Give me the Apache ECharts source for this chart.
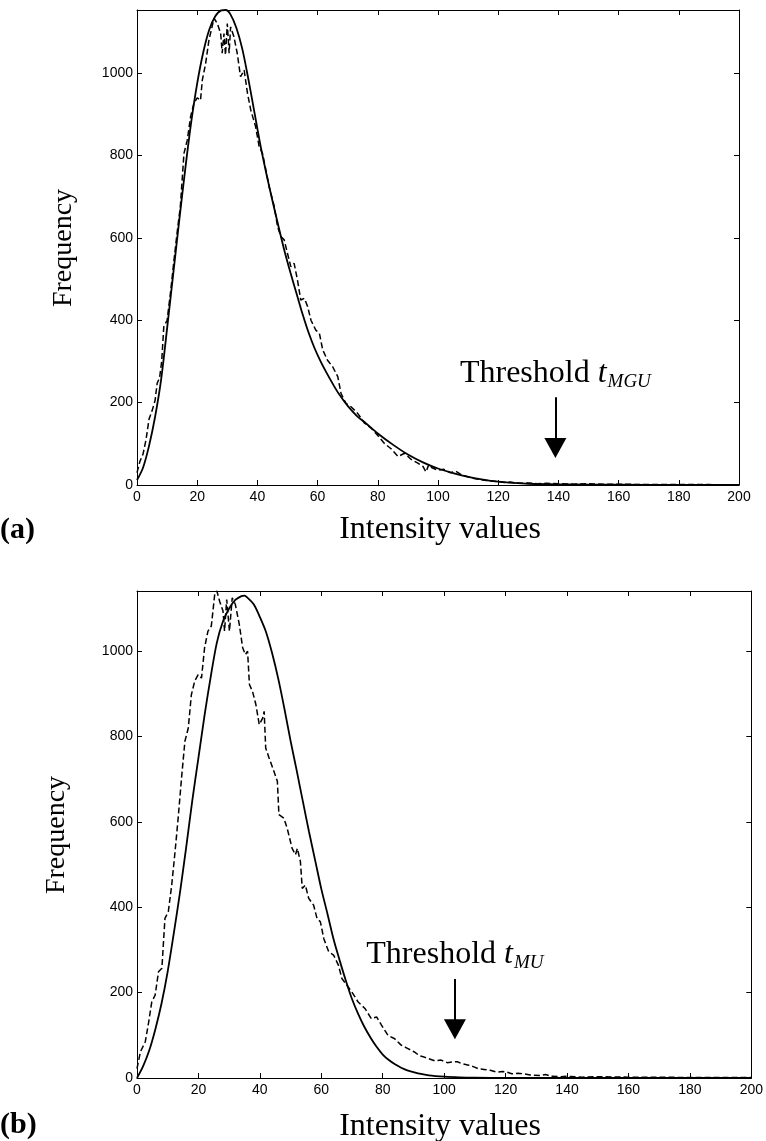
<!DOCTYPE html>
<html>
<head>
<meta charset="utf-8">
<script src="https://cdn.jsdelivr.net/npm/echarts@6/dist/echarts.min.js"></script>
<style>
html,body{margin:0;padding:0;background:#fff;}
#chart{width:766px;height:1141px;}
</style>
</head>
<body>
<div id="chart"></div>
<script>
// ---------- data ----------
const xTicks = [0, 20, 40, 60, 80, 100, 120, 140, 160, 180, 200];
const yTicks = [0, 200, 400, 600, 800, 1000];

// (a) fitted model (solid) : [intensity, frequency]
const solidA = [[0,12],[2,42],[4,95],[6,165],[8,255],[10,380],[12,510],[14,640],[16,765],[18,880],[20,975],[22,1050],[24,1105],[26,1138],[28,1152],[29.5,1153],[31,1143],[33,1110],[35,1058],[37,985],[39,905],[41,825],[43,755],[45,690],[47,628],[49,568],[51,515],[53,465],[55,415],[57,370],[59,332],[61,300],[63,272],[65,246],[67,222],[70,192],[73,168],[76,150],[80,125],[85,98],[90,74],[95,55],[100,40],[105,29],[110,20],[115,13],[120,8],[125,5],[130,3],[140,1.5],[150,1],[170,0.5],[200,0.2]];

// (a) histogram (dashed)
const dashedA = [[0,30],[1,58],[2,75],[3,110],[4,160],[5,180],[6,205],[6.7,247],[7.5,260],[8.2,300],[8.9,384],[10,400],[11.1,465],[12.2,540],[13.3,611],[14.4,676],[15.6,805],[16.7,837],[17.8,894],[18.9,926],[20,940],[21.1,934],[21.7,983],[22.8,1023],[23.9,1080],[25.6,1133],[26.7,1120],[27.8,1096],[28.3,1048],[28.9,1096],[29.4,1044],[30,1120],[30.6,1048],[31.1,1112],[32.2,1088],[33.3,1048],[34.4,991],[35.6,1007],[36.7,951],[37.8,910],[39.4,870],[40.6,821],[41.7,805],[42.8,765],[43.9,724],[45.6,676],[46.7,627],[47.8,603],[48.9,595],[50,562],[51.1,530],[52.2,538],[53.3,498],[54.4,449],[55.6,453],[56.7,433],[57.8,400],[59.4,376],[60.6,368],[61.7,328],[63.3,303],[65,287],[66.7,263],[67.8,222],[69.4,198],[71.1,190],[73.3,174],[75.6,150],[77.8,138],[80,120],[82.2,101],[84.4,88],[86.7,69],[88.9,77],[91.1,62],[93.3,53],[95,45],[96,32],[97,50],[98,42],[100,36],[102,38],[104,30],[106,33],[108,24],[110,20],[112,16],[114,13],[116,11],[118,10],[120,8],[122,6],[124,7],[126,5],[128,4],[130,5],[133,3],[136,4],[140,3],[145,2],[150,3],[155,2],[160,2],[170,1],[180,1],[190,1],[200,0]];

// (b) fitted model (solid)
const solidB = [[0,0],[2,28],[4,65],[6,115],[8,175],[10,250],[12,340],[14,435],[16,540],[18,650],[20,750],[22,850],[24,940],[26,1020],[28,1070],[30,1100],[32,1120],[34,1129],[35,1130],[36,1125],[38,1110],[40,1080],[42,1045],[44,995],[46,935],[48,865],[50,790],[52,720],[54,648],[56,577],[58,510],[60,443],[62,385],[64,325],[66,275],[68,228],[70,185],[72,150],[74,120],[76,95],[78,73],[80,55],[82,42],[84,32],[86,24],[88,18],[90,14],[92,10],[95,6],[100,3],[105,1.5],[110,0.8],[120,0.3],[200,0]];

// (b) histogram (dashed)
const dashedB = [[0,22],[1.1,61],[2.7,85],[3.8,131],[4.8,178],[5.9,194],[7,249],[8.1,257],[9.1,374],[10.2,390],[11.3,452],[12.4,531],[13.4,609],[14.5,703],[15.6,789],[16.7,820],[17.7,898],[18.8,930],[19.9,945],[21,937],[22,1008],[23.1,1047],[24.2,1059],[25.3,1133],[26,1141],[26.9,1117],[28,1094],[28.5,1047],[29.2,1121],[30.1,1047],[31,1125],[32,1110],[33.3,1063],[34.4,1008],[35.3,992],[36,1000],[36.6,922],[37.6,906],[38.7,875],[39.8,828],[40.9,843],[41.4,859],[41.9,773],[43,750],[44.6,718],[45.7,695],[46.2,617],[47.8,609],[48.9,585],[50.5,538],[51.6,523],[52.2,538],[53.2,507],[53.8,444],[54.8,452],[55.9,421],[57.5,405],[58.6,374],[59.7,366],[60.8,327],[62.4,296],[64,288],[65.6,264],[66.7,233],[68.3,218],[69.9,202],[72,178],[74.2,163],[76.3,139],[78,143],[79.6,124],[81.7,100],[83.9,92],[86,77],[88.2,69],[90.3,61],[92,52],[93.5,49],[95,45],[97,40],[99,42],[101,36],[103,38],[104.3,38],[106,33],[108,30],[109.7,26],[111,22],[113,20],[115,18],[117,14],[119,15],[120.4,14],[122,10],[124,11],[125.8,10],[128,7],[131.2,6],[133,8],[135,4],[138,3],[140,4],[145,2],[150,3],[160,2],[170,2],[180,1],[190,1],[200,1]];

// threshold arrows: [x, arrow start y, arrow head y]
const thresholdA = [139, 213, 90];
const thresholdB = [103.5, 232, 114];
const thresholdLabelA = 'MGU';
const thresholdLabelB = 'MU';
const yMaxA = 1153;
const yMaxB = 1141;

// ---------- chart ----------
const chart = echarts.init(document.getElementById('chart'), null, {renderer: 'canvas'});
const SANS = 'Liberation Sans, Arial, Helvetica, sans-serif';
const SERIF = 'Liberation Serif, Times New Roman, serif';

function xAx(grid, pos) {
  return {
    gridIndex: grid, type: 'value', position: pos,
    min: xTicks[0], max: xTicks[xTicks.length - 1], interval: xTicks[1] - xTicks[0],
    axisLine: {show: true, onZero: false, lineStyle: {color: '#000', width: 1}},
    axisTick: {show: true, inside: true, length: 5, lineStyle: {color: '#000', width: 1}},
    axisLabel: {show: pos === 'bottom', color: '#000', fontSize: 14, fontFamily: SANS, margin: 5},
    splitLine: {show: false}
  };
}
function yAx(grid, pos, max) {
  return {
    gridIndex: grid, type: 'value', position: pos,
    min: yTicks[0], max: max, interval: yTicks[1] - yTicks[0],
    axisLine: {show: true, onZero: false, lineStyle: {color: '#000', width: 1}},
    axisTick: {show: true, inside: true, length: 5, lineStyle: {color: '#000', width: 1}},
    axisLabel: {show: pos === 'left', color: '#000', fontSize: 14, fontFamily: SANS, margin: 4,
      showMaxLabel: false,
      formatter: v => (yTicks.indexOf(v) >= 0 ? String(v) : '')},
    splitLine: {show: false}
  };
}
function threshold(t, sub) {
  return {
    silent: true,
    symbol: ['none', 'triangle'],
    symbolSize: [22, 20],
    lineStyle: {color: '#000', width: 2, type: 'solid'},
    label: {
      show: true, position: 'start', distance: 6,
      formatter: 'Threshold {t|t}{g| }{s|' + sub + '}',
      color: '#000', fontFamily: SERIF, fontSize: 32, lineHeight: 36,
      rich: {
        t: {fontFamily: SERIF, fontStyle: 'italic', fontSize: 32, color: '#000', lineHeight: 36},
        g: {fontSize: 4, lineHeight: 4},
        s: {fontFamily: SERIF, fontStyle: 'italic', fontSize: 19, color: '#000', lineHeight: 10, verticalAlign: 'bottom'}
      }
    },
    emphasis: {disabled: true},
    data: [[{coord: [t[0], t[1]]}, {coord: [t[0], t[2]]}]]
  };
}

const option = {
  animation: false,
  backgroundColor: '#fff',
  grid: [
    {left: 137, top: 10, width: 602, height: 475},
    {left: 137, top: 591, width: 619, height: 487}
  ],
  xAxis: [xAx(0, 'bottom'), xAx(0, 'top'), xAx(1, 'bottom'), xAx(1, 'top')],
  yAxis: [yAx(0, 'left', yMaxA), yAx(0, 'right', yMaxA), yAx(1, 'left', yMaxB), yAx(1, 'right', yMaxB)],
  series: [
    {type: 'line', xAxisIndex: 0, yAxisIndex: 0, data: dashedA, showSymbol: false, symbol: 'none',
      lineStyle: {color: '#000', width: 1.5, type: [6, 3]}, z: 2},
    {type: 'line', xAxisIndex: 0, yAxisIndex: 0, data: solidA, showSymbol: false, symbol: 'none',
      smooth: 0.3, lineStyle: {color: '#000', width: 1.8}, z: 3,
      markLine: threshold(thresholdA, thresholdLabelA)},
    {type: 'line', xAxisIndex: 2, yAxisIndex: 2, data: dashedB, showSymbol: false, symbol: 'none',
      lineStyle: {color: '#000', width: 1.5, type: [6, 3]}, z: 2},
    {type: 'line', xAxisIndex: 2, yAxisIndex: 2, data: solidB, showSymbol: false, symbol: 'none',
      smooth: 0.3, lineStyle: {color: '#000', width: 1.8}, z: 3,
      markLine: threshold(thresholdB, thresholdLabelB)}
  ],
  graphic: [
    {type: 'text', x: 64, y: 248, rotation: Math.PI / 2,
      style: {text: 'Frequency', font: '28px ' + SERIF, fill: '#000', align: 'center', verticalAlign: 'middle'}},
    {type: 'text', x: 57, y: 835, rotation: Math.PI / 2,
      style: {text: 'Frequency', font: '28px ' + SERIF, fill: '#000', align: 'center', verticalAlign: 'middle'}},
    {type: 'text', x: 440, y: 530,
      style: {text: 'Intensity values', font: '32px ' + SERIF, fill: '#000', align: 'center', verticalAlign: 'middle'}},
    {type: 'text', x: 440, y: 1127,
      style: {text: 'Intensity values', font: '32px ' + SERIF, fill: '#000', align: 'center', verticalAlign: 'middle'}},
    {type: 'text', x: 0, y: 530,
      style: {text: '(a)', font: 'bold 30px ' + SERIF, fill: '#000', align: 'left', verticalAlign: 'middle'}},
    {type: 'text', x: 0, y: 1125,
      style: {text: '(b)', font: 'bold 30px ' + SERIF, fill: '#000', align: 'left', verticalAlign: 'middle'}}
  ]
};
chart.setOption(option);
</script>
</body>
</html>
